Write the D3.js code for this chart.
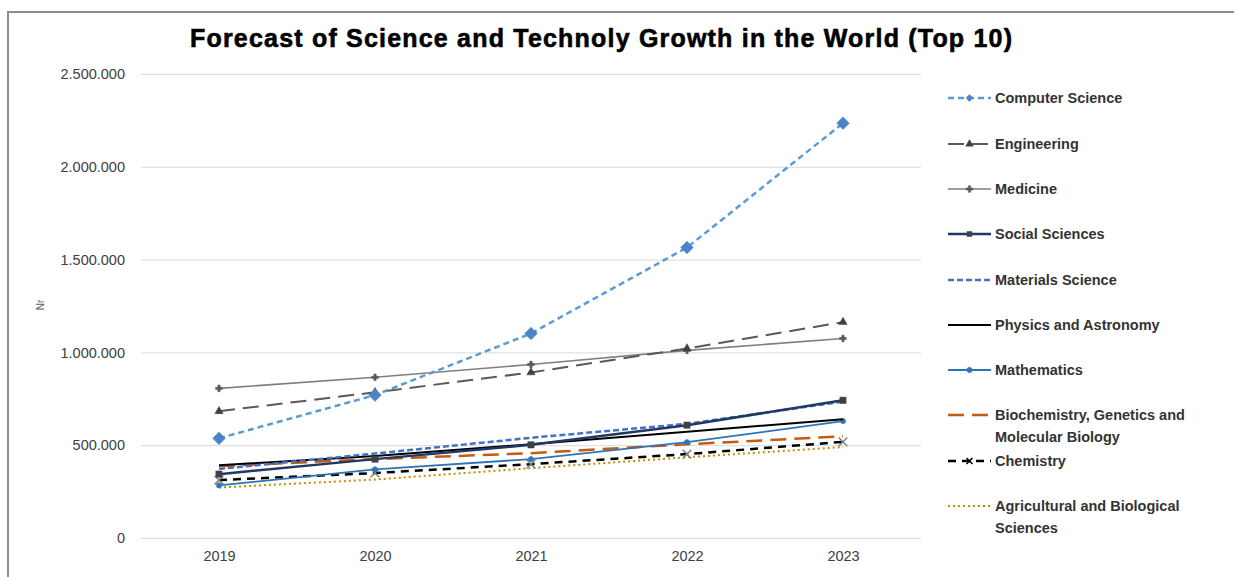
<!DOCTYPE html>
<html><head><meta charset="utf-8">
<script src="https://cdn.jsdelivr.net/npm/d3@7"></script>
<style>body{margin:0;background:#fff;} svg{display:block;}</style>
</head><body>
<svg id="c" width="1234" height="577"></svg>
<script>
const years = ["2019","2020","2021","2022","2023"];
const yTicks = [0, 500000, 1000000, 1500000, 2000000, 2500000];
const seriesNames = ["Computer Science","Engineering","Medicine","Social Sciences","Materials Science","Physics and Astronomy","Mathematics","Biochemistry, Genetics and Molecular Biology","Chemistry","Agricultural and Biological Sciences"];
const computerScience = [537000, 770000, 1102000, 1565000, 2235000];
const engineering = [683000, 785000, 892000, 1021000, 1163000];
const medicine = [806000, 866000, 935000, 1011000, 1075000];
const socialSciences = [344000, 425000, 502000, 608000, 742000];
const materialsScience = [372000, 455000, 540000, 615000, 735000];
const physicsAstronomy = [392000, 442000, 505000, 572000, 640000];
const mathematics = [283000, 370000, 425000, 516000, 630000];
const biochemistry = [387000, 425000, 457000, 505000, 548000];
const chemistry = [312000, 350000, 398000, 452000, 518000];
const agricultural = [272000, 315000, 376000, 435000, 490000];
const seriesValues = [computerScience, engineering, medicine, socialSciences, materialsScience, physicsAstronomy, mathematics, biochemistry, chemistry, agricultural];

const styles = [
  {color:"#5B9BD5", width:2.5, dash:"6,4", marker:"diamond", mcolor:"#4A86C5", msize:80},
  {color:"#595959", width:2, dash:"16,8", marker:"triangle", mcolor:"#404040", msize:30},
  {color:"#7F7F7F", width:1.6, dash:null, marker:"cross", mcolor:"#595959", msize:25},
  {color:"#203864", width:2.5, dash:null, marker:"square", mcolor:"#404040", msize:40},
  {color:"#4472C4", width:2.5, dash:"6,3", marker:null},
  {color:"#000000", width:2, dash:null, marker:null},
  {color:"#2E75B6", width:1.8, dash:null, marker:"circle", mcolor:"#2E75B6", msize:22},
  {color:"#C55A11", width:2.5, dash:"16,8", marker:null},
  {color:"#000000", width:2.5, dash:"8,6", marker:"x", mcolor:"#7F7F7F", msize:50},
  {color:"#BF9000", width:2, dash:"2,3", marker:null}
];

const FONT = "Liberation Sans, Arial, sans-serif";
const svg = d3.select("#c");
svg.append("rect").attr("x",8).attr("y",12).attr("width",1240).attr("height",600)
  .attr("fill","#fff").attr("stroke","#8c8c8c").attr("stroke-width",2);

svg.append("text").attr("x",601).attr("y",47).attr("text-anchor","middle")
  .attr("font-family",FONT).attr("font-weight","bold")
  .attr("font-size",25).attr("fill","#000").attr("stroke","#000").attr("stroke-width",0.6)
  .attr("textLength",822).attr("lengthAdjust","spacing")
  .text("Forecast of Science and Technoly Growth in the World (Top 10)");

const x = d3.scalePoint().domain(years).range([141, 921]).padding(0.5);
const y = d3.scaleLinear().domain([0, 2500000]).range([538, 74]);

const fmt = v => d3.format(",")(v).replace(/,/g, ".");

const yAxis = svg.append("g").attr("transform","translate(141,0)")
  .call(d3.axisLeft(y).tickValues(yTicks).tickFormat(fmt).tickSize(-780).tickPadding(16));
yAxis.select(".domain").remove();
yAxis.selectAll("line").attr("stroke","#d9d9d9").attr("stroke-width",1);
yAxis.selectAll("text").attr("font-family",FONT).attr("font-size",14.5).attr("fill","#404040");

const xAxis = svg.append("g").attr("transform","translate(0,538)")
  .call(d3.axisBottom(x).tickSize(0).tickPadding(13));
xAxis.select(".domain").remove();
xAxis.selectAll("text").attr("font-family",FONT).attr("font-size",14.5).attr("fill","#404040");

svg.append("text").attr("transform","translate(44,305) rotate(-90)").attr("text-anchor","middle")
  .attr("font-family",FONT).attr("font-size",10).attr("fill","#595959").text("Nr");

const symMap = {diamond:d3.symbolSquare, triangle:d3.symbolTriangle, square:d3.symbolSquare, circle:d3.symbolCircle, cross:d3.symbolCross, x:d3.symbolX};
const line = d3.line().x((d,i)=>x(years[i])).y(d=>y(d));

const order = [9,8,7,6,5,4,3,2,1,0];
order.forEach(k => {
  const s = styles[k], vals = seriesValues[k];
  const g = svg.append("g");
  g.append("path").datum(vals).attr("d", line).attr("fill","none")
    .attr("stroke", s.color).attr("stroke-width", s.width)
    .attr("stroke-dasharray", s.dash);
  if (s.marker) {
    g.selectAll("path.m").data(vals).join("path").attr("class","m")
      .attr("transform",(d,i)=>`translate(${x(years[i])},${y(d)})` + (s.marker==="diamond" ? " rotate(45)" : ""))
      .attr("d", d3.symbol(symMap[s.marker], s.msize))
      .attr("fill", s.marker==="x" ? "none" : s.mcolor)
      .attr("stroke", s.mcolor).attr("stroke-width", s.marker==="x"?1.5:0.5);
  }
});

const legY = [98, 144, 189, 234, 280, 325, 370, 415, 461, 506];
const legLines = [["Computer Science"],["Engineering"],["Medicine"],["Social Sciences"],["Materials Science"],["Physics and Astronomy"],["Mathematics"],["Biochemistry, Genetics and","Molecular Biology"],["Chemistry"],["Agricultural and Biological","Sciences"]];
const leg = svg.append("g");
seriesNames.forEach((name, k) => {
  const s = styles[k], yy = legY[k];
  const g = leg.append("g");
  g.append("line").attr("x1",948).attr("x2",991).attr("y1",yy).attr("y2",yy)
    .attr("stroke", s.color).attr("stroke-width", Math.min(s.width,2.5))
    .attr("stroke-dasharray", s.dash);
  if (s.marker) {
    g.append("path").attr("transform",`translate(969.5,${yy})` + (s.marker==="diamond" ? " rotate(45)" : ""))
      .attr("d", d3.symbol(symMap[s.marker], s.marker==="diamond"?25:Math.min(s.msize,25)))
      .attr("fill", s.marker==="x" ? "none" : s.mcolor)
      .attr("stroke", s.marker==="x" ? "#000" : s.mcolor).attr("stroke-width", s.marker==="x"?1.5:0.5);
  }
  const t = g.append("text").attr("x",995).attr("y",yy+5)
    .attr("font-family",FONT).attr("font-weight","bold")
    .attr("font-size",14.5).attr("fill","#333");
  legLines[k].forEach((ln, j) => {
    t.append("tspan").attr("x",995).attr("dy", j===0?0:22).text(ln);
  });
});
</script>
</body></html>
